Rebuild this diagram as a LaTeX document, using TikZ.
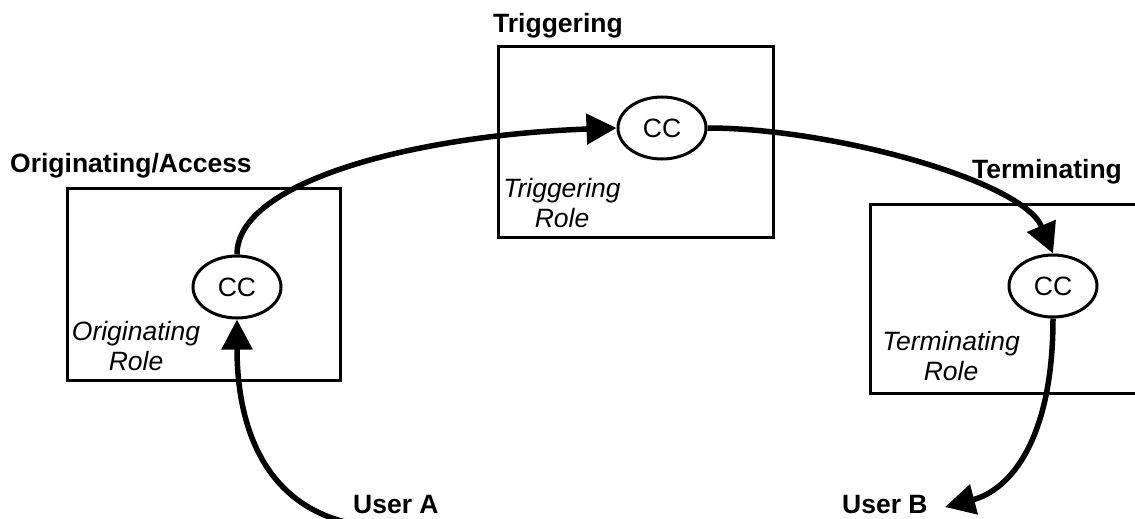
\documentclass[tikz,border=0pt]{standalone}
\usepackage{fontspec}
\setmainfont{Liberation Sans}
\usetikzlibrary{arrows.meta,shapes.geometric}
\begin{document}
\begin{tikzpicture}[x=1pt,y=-1pt,
  box/.style={draw, line width=3pt, rectangle, inner sep=0pt},
  cc/.style={draw, line width=3pt, ellipse, minimum width=88pt, minimum height=62pt, inner sep=0pt, fill=white, font=\fontsize{26.5}{30}\selectfont},
  lbl/.style={font=\fontsize{26.5}{30}\selectfont\bfseries, inner sep=0pt, anchor=base west},
  role/.style={font=\fontsize{26.5}{30}\selectfont\itshape, inner sep=0pt, anchor=base},
  flow/.style={line width=5.5pt, -{Triangle[length=30pt,width=30pt]}}
]
\useasboundingbox (0,0) rectangle (1135,519);
\clip (0,0) rectangle (1135,519);
% boxes
\node[box, minimum width=273pt, minimum height=192pt] (boxO) at (203.5,284) {};
\node[box, minimum width=275pt, minimum height=190pt] (boxT) at (635.5,142) {};
\node[box, minimum width=275pt, minimum height=189pt] (boxR) at (1007.5,298.5) {};
% titles
\node[lbl] (tO) at (10,172) {Originating/Access};
\node[lbl] (tT) at (493,33) {Triggering};
\node[lbl] (tR) at (972,178) {Terminating};
\node[lbl] (uA) at (353,513) {User A};
\node[lbl] (uB) at (842,513) {User B};
% roles
\node[role] (rO) at (136,340) {\begin{tabular}[t]{@{}c@{}}Originating\\Role\end{tabular}};
\node[role] (rT) at (562,197) {\begin{tabular}[t]{@{}c@{}}Triggering\\Role\end{tabular}};
\node[role] (rR) at (951,350) {\begin{tabular}[t]{@{}c@{}}Terminating\\Role\end{tabular}};
% call control
\node[cc] (ccO) at (237,287) {CC};
\node[cc] (ccT) at (662,128) {CC};
\node[cc] (ccR) at (1053,286) {CC};
% free ends
\coordinate (ua) at (345,522);
\coordinate (ub) at (945,507);
% connectors
\draw[flow] (ua) .. controls (260,500) and (237,420) .. (ccO.south);
\draw[flow] (ccO.north) .. controls (237,180) and (420,135) .. (ccT.west);
\draw[flow] (ccT.east) .. controls (830,128) and (1022,180) .. (ccR.north);
\draw[flow] (ccR.south) .. controls (1053,440) and (1010,490) .. (ub);
\end{tikzpicture}
\end{document}
